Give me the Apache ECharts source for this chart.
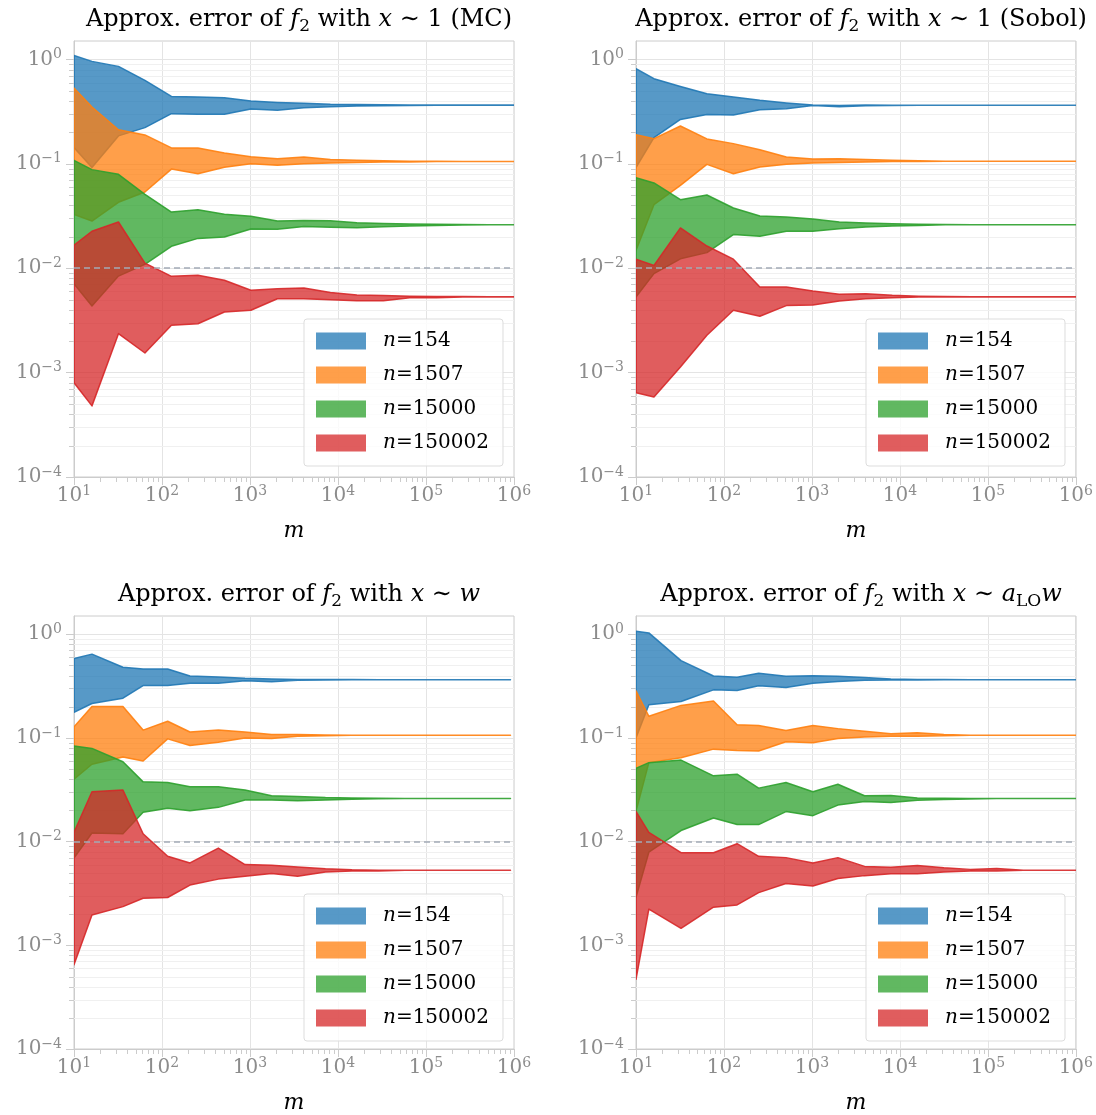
<!DOCTYPE html>
<html><head><meta charset="utf-8">
<script src="https://cdn.jsdelivr.net/npm/echarts@6/dist/echarts.min.js"></script>
<style>html,body{margin:0;padding:0;background:#fff}#c{width:1096px;height:1115px}</style>
</head><body><div id="c"></div>
<script>
// ---------- data ----------
const names = ['n=154', 'n=1507', 'n=15000', 'n=150002'];

// Panel 1: x ~ 1 (MC)
const m1 = [10, 16, 32, 64, 128, 256, 512, 1024, 2048, 4096, 8192, 16384, 32768, 65536, 131072, 262144, 524288, 1000000];
const blue1Hi = [1.09, 0.957, 0.857, 0.63, 0.442, 0.436, 0.43, 0.399, 0.387, 0.38, 0.372, 0.369, 0.367, 0.366, 0.365, 0.365, 0.365, 0.365];
const blue1Lo = [0.143, 0.092, 0.185, 0.222, 0.302, 0.298, 0.298, 0.335, 0.325, 0.345, 0.352, 0.357, 0.36, 0.362, 0.363, 0.364, 0.364, 0.364];
const orange1Hi = [0.532, 0.35, 0.212, 0.189, 0.142, 0.142, 0.127, 0.117, 0.112, 0.116, 0.11, 0.108, 0.107, 0.106, 0.106, 0.105, 0.105, 0.105];
const orange1Lo = [0.0328, 0.0283, 0.0428, 0.0537, 0.089, 0.0804, 0.0925, 0.1, 0.097, 0.1, 0.102, 0.103, 0.104, 0.104, 0.105, 0.105, 0.105, 0.105];
const green1Hi = [0.108, 0.0879, 0.0793, 0.051, 0.0345, 0.0363, 0.0328, 0.0314, 0.0283, 0.0287, 0.0285, 0.0272, 0.0268, 0.0265, 0.0263, 0.0262, 0.0261, 0.0261];
const green1Lo = [0.0071, 0.00435, 0.0084, 0.0109, 0.0162, 0.0193, 0.0199, 0.0237, 0.0236, 0.0251, 0.0247, 0.0244, 0.025, 0.0254, 0.0257, 0.0259, 0.026, 0.026];
const red1Hi = [0.0166, 0.0226, 0.0277, 0.0112, 0.00836, 0.00855, 0.00766, 0.00614, 0.00637, 0.00646, 0.00585, 0.00555, 0.00547, 0.0054, 0.00537, 0.00535, 0.00533, 0.00533];
const red1Lo = [0.0008, 0.00048, 0.00236, 0.00154, 0.00284, 0.00294, 0.00381, 0.00395, 0.0051, 0.0051, 0.00498, 0.00487, 0.00487, 0.0052, 0.0052, 0.0053, 0.0053, 0.0053];

// Panel 2: x ~ 1 (Sobol)
const m2 = [10, 16, 32, 64, 128, 256, 512, 1024, 2048, 4096, 8192, 16384, 32768, 65536, 131072, 262144, 524288, 1000000];
const blue2Hi = [0.814, 0.653, 0.551, 0.469, 0.436, 0.405, 0.382, 0.365, 0.362, 0.365, 0.364, 0.364, 0.364, 0.364, 0.364, 0.364, 0.364, 0.364];
const blue2Lo = [0.092, 0.178, 0.266, 0.297, 0.293, 0.33, 0.337, 0.362, 0.352, 0.36, 0.362, 0.363, 0.364, 0.364, 0.364, 0.364, 0.364, 0.364];
const orange2Hi = [0.19, 0.174, 0.23, 0.173, 0.156, 0.136, 0.116, 0.111, 0.112, 0.11, 0.108, 0.107, 0.106, 0.106, 0.106, 0.106, 0.106, 0.106];
const orange2Lo = [0.0148, 0.0406, 0.0621, 0.0988, 0.0804, 0.093, 0.0988, 0.1016, 0.103, 0.104, 0.105, 0.105, 0.106, 0.106, 0.106, 0.106, 0.106, 0.106];
const green2Hi = [0.0736, 0.0655, 0.0453, 0.0502, 0.0377, 0.0316, 0.0309, 0.0296, 0.0277, 0.0271, 0.0266, 0.0263, 0.0262, 0.0261, 0.0261, 0.0261, 0.0261, 0.0261];
const green2Lo = [0.0053, 0.00887, 0.0123, 0.0141, 0.021, 0.0202, 0.0226, 0.0226, 0.0239, 0.0248, 0.0253, 0.0257, 0.026, 0.026, 0.0261, 0.0261, 0.0261, 0.0261];
const red2Hi = [0.0122, 0.0106, 0.0243, 0.0163, 0.0122, 0.0066, 0.0066, 0.00605, 0.00562, 0.0057, 0.0055, 0.0054, 0.00535, 0.00533, 0.00533, 0.00533, 0.00533, 0.00533];
const red2Lo = [0.00064, 0.000585, 0.00113, 0.00228, 0.00395, 0.00346, 0.00438, 0.00444, 0.00485, 0.0051, 0.0052, 0.0053, 0.0053, 0.0053, 0.0053, 0.0053, 0.0053, 0.0053];

// Panel 3: x ~ w
const m3 = [10, 16, 36, 61, 116, 208, 437, 877, 1760, 3470, 7200, 14400, 28800, 57600, 115000, 230000, 460000, 912000];
const blue3Hi = [0.585, 0.643, 0.48, 0.462, 0.462, 0.396, 0.388, 0.376, 0.37, 0.367, 0.366, 0.366, 0.365, 0.365, 0.365, 0.365, 0.365, 0.365];
const blue3Lo = [0.177, 0.215, 0.242, 0.32, 0.32, 0.337, 0.337, 0.357, 0.348, 0.36, 0.363, 0.364, 0.364, 0.364, 0.364, 0.364, 0.364, 0.364];
const orange3Hi = [0.128, 0.201, 0.201, 0.119, 0.145, 0.114, 0.119, 0.114, 0.108, 0.108, 0.107, 0.106, 0.106, 0.106, 0.106, 0.106, 0.106, 0.106];
const orange3Lo = [0.04, 0.0557, 0.0655, 0.06, 0.098, 0.0847, 0.091, 0.1, 0.0988, 0.104, 0.105, 0.106, 0.106, 0.106, 0.106, 0.106, 0.106, 0.106];
const green3Hi = [0.0834, 0.0793, 0.059, 0.0377, 0.0372, 0.0338, 0.0338, 0.0314, 0.0277, 0.0273, 0.0266, 0.0263, 0.0262, 0.0261, 0.0261, 0.0261, 0.0261, 0.0261];
const green3Lo = [0.00695, 0.0121, 0.0119, 0.0192, 0.021, 0.0199, 0.0214, 0.0252, 0.0252, 0.0248, 0.0252, 0.0256, 0.0259, 0.026, 0.0261, 0.0261, 0.0261, 0.0261];
const red3Hi = [0.0123, 0.0303, 0.0314, 0.0119, 0.00722, 0.00623, 0.00867, 0.00601, 0.00593, 0.0057, 0.00548, 0.00535, 0.0053, 0.0053, 0.0053, 0.0053, 0.0053, 0.0053];
const red3Lo = [0.00065, 0.00196, 0.00236, 0.00284, 0.00289, 0.00381, 0.00435, 0.00464, 0.00492, 0.00464, 0.0051, 0.0052, 0.0052, 0.0053, 0.0053, 0.0053, 0.0053, 0.0053];

// Panel 4: x ~ a_LO w
const m4 = [10, 14, 32.5, 76, 141, 248, 507, 1026, 1973, 3966, 7900, 15800, 31600, 63200, 126000, 253000, 506000, 1000000];
const blue4Hi = [1.07, 1.03, 0.556, 0.396, 0.385, 0.42, 0.393, 0.399, 0.393, 0.382, 0.37, 0.367, 0.366, 0.365, 0.365, 0.365, 0.365, 0.365];
const blue4Lo = [0.1, 0.209, 0.225, 0.291, 0.287, 0.318, 0.306, 0.337, 0.35, 0.36, 0.362, 0.363, 0.364, 0.364, 0.364, 0.364, 0.364, 0.364];
const orange4Hi = [0.285, 0.162, 0.206, 0.227, 0.134, 0.132, 0.118, 0.132, 0.123, 0.116, 0.11, 0.112, 0.108, 0.106, 0.106, 0.106, 0.106, 0.106];
const orange4Lo = [0.0196, 0.0578, 0.0645, 0.078, 0.0758, 0.0747, 0.0918, 0.0898, 0.0988, 0.102, 0.104, 0.104, 0.105, 0.106, 0.106, 0.106, 0.106, 0.106];
const green4Hi = [0.051, 0.0578, 0.0612, 0.0431, 0.0447, 0.0328, 0.0372, 0.0303, 0.0358, 0.0277, 0.0278, 0.0264, 0.0262, 0.0261, 0.0261, 0.0261, 0.0261, 0.0261];
const green4Lo = [0.0029, 0.0079, 0.0128, 0.0169, 0.0146, 0.0146, 0.0195, 0.0178, 0.0225, 0.0244, 0.0238, 0.025, 0.0255, 0.0258, 0.026, 0.0261, 0.0261, 0.0261];
const red4Hi = [0.0196, 0.0123, 0.00782, 0.0078, 0.00955, 0.00722, 0.00701, 0.00623, 0.00701, 0.00577, 0.00565, 0.0059, 0.0056, 0.0054, 0.0055, 0.0053, 0.0053, 0.0053];
const red4Lo = [0.00047, 0.00223, 0.00146, 0.00233, 0.00245, 0.00322, 0.00395, 0.00373, 0.00441, 0.0047, 0.0049, 0.0049, 0.0051, 0.0052, 0.0052, 0.0053, 0.0053, 0.0053];

const referenceLevel = 0.01;
const yTickValues = [1e-4, 1e-3, 1e-2, 1e-1, 1];
const xTickValues = [1e1, 1e2, 1e3, 1e4, 1e5, 1e6];

// ---------- styling / layout ----------
const SERIF = 'DejaVu Serif';
const COL = ['#1f77b4', '#ff7f0e', '#2ca02c', '#d62728'];
function rgba(hex, a) {
  const r = parseInt(hex.slice(1, 3), 16), g = parseInt(hex.slice(3, 5), 16), b = parseInt(hex.slice(5, 7), 16);
  return 'rgba(' + r + ',' + g + ',' + b + ',' + a + ')';
}
const GW = 440, GH = 436;
const panels = [
  { m: m1, hi: [blue1Hi, orange1Hi, green1Hi, red1Hi], lo: [blue1Lo, orange1Lo, green1Lo, red1Lo],
    title: '{r|Approx. error of }{i|f}{s|2}{r| with }{i|x}{r| ∼ 1 (MC)}', left: 74, top: 41, lx: 304, ly: 319 },
  { m: m2, hi: [blue2Hi, orange2Hi, green2Hi, red2Hi], lo: [blue2Lo, orange2Lo, green2Lo, red2Lo],
    title: '{r|Approx. error of }{i|f}{s|2}{r| with }{i|x}{r| ∼ 1 (Sobol)}', left: 636, top: 41, lx: 866, ly: 319 },
  { m: m3, hi: [blue3Hi, orange3Hi, green3Hi, red3Hi], lo: [blue3Lo, orange3Lo, green3Lo, red3Lo],
    title: '{r|Approx. error of }{i|f}{s|2}{r| with }{i|x}{r| ∼ }{i|w}', left: 74, top: 616, lx: 304, ly: 894 },
  { m: m4, hi: [blue4Hi, orange4Hi, green4Hi, red4Hi], lo: [blue4Lo, orange4Lo, green4Lo, red4Lo],
    title: '{r|Approx. error of }{i|f}{s|2}{r| with }{i|x}{r| ∼ }{i|a}{s|LO}{i|w}', left: 636, top: 616, lx: 866, ly: 894 }
];

// minor tick values (2..9 x decade)
const minorY = [], minorX = [];
for (let e = -4; e <= -1; e++) for (let k = 2; k <= 9; k++) minorY.push(k * Math.pow(10, e));
for (let e = 1; e <= 5; e++) for (let k = 2; k <= 9; k++) minorX.push(k * Math.pow(10, e));

const TICKRICH = {
  b: { fontFamily: SERIF, fontSize: 20, lineHeight: 24, color: '#8c8c8c' },
  s: { fontFamily: SERIF, fontSize: 14, lineHeight: 14, verticalAlign: 'top', color: '#8c8c8c' }
};
function expFmt(v) {
  const l = Math.log10(v), e = Math.round(l);
  if (Math.abs(l - e) > 0.01) return '';
  return '{b|10}{s|' + String(e).replace('-', '\u2212') + '}';
}

const TITLERICH = {
  r: { fontFamily: SERIF, fontSize: 24, fontWeight: 'normal', color: '#000', lineHeight: 30 },
  i: { fontFamily: SERIF, fontSize: 24, fontWeight: 'normal', fontStyle: 'italic', color: '#000', lineHeight: 30 },
  s: { fontFamily: SERIF, fontSize: 17, fontWeight: 'normal', color: '#000', lineHeight: 22, verticalAlign: 'bottom' }
};

function bandRenderer(k) {
  const fill = rgba(COL[k], 0.75);
  const edge = rgba(COL[k], 0.9);
  return function (params, api) {
    if (params.dataIndexInside !== 0) return null;
    const n = params.dataInsideLength;
    const up = [], dn = [];
    for (let j = 0; j < n; j++) {
      const x = api.value(0, j);
      up.push(api.coord([x, api.value(2, j)]));
      dn.push(api.coord([x, api.value(1, j)]));
    }
    return {
      type: 'polygon',
      shape: { points: up.concat(dn.reverse()) },
      style: { fill: fill, stroke: edge, lineWidth: 1.5, lineJoin: 'round' }
    };
  };
}

const option = {
  animation: false,
  backgroundColor: '#fff',
  title: [], grid: [], xAxis: [], yAxis: [], legend: [], series: []
};

panels.forEach((p, i) => {
  option.title.push({ text: p.title, left: p.left + GW / 2, top: p.top - 41, textAlign: 'center',
    textStyle: { fontWeight: 'normal', rich: TITLERICH } });
  option.grid.push({ left: p.left, top: p.top, width: GW, height: GH, show: true, borderColor: '#cccccc', borderWidth: 1, backgroundColor: 'transparent' });
  option.xAxis.push({
    type: 'log', logBase: 10, gridIndex: i, min: 10, max: 1e6,
    name: 'm', nameLocation: 'middle', nameGap: 43,
    nameTextStyle: { fontFamily: SERIF, fontStyle: 'italic', fontSize: 22, color: '#000' },
    axisLine: { show: true, lineStyle: { color: '#cccccc' } },
    axisTick: { show: true, length: 8, lineStyle: { color: '#cccccc' }, customValues: xTickValues },
    axisLabel: { margin: 7, formatter: expFmt, rich: TICKRICH, customValues: xTickValues },
    splitLine: { show: true, lineStyle: { color: '#e4e4e4' } }
  });
  option.yAxis.push({
    type: 'log', logBase: 10, gridIndex: i, min: 1e-4, max: 1.5,
    axisLine: { show: true, lineStyle: { color: '#cccccc' } },
    axisTick: { show: true, length: 8, lineStyle: { color: '#cccccc' }, customValues: yTickValues },
    axisLabel: { margin: 12, formatter: expFmt, rich: TICKRICH, customValues: yTickValues },
    splitLine: { show: true, lineStyle: { color: '#e4e4e4' } }
  });
  // minor horizontal grid lines + minor ticks
  option.series.push({
    type: 'custom', xAxisIndex: i, yAxisIndex: i, silent: true, z: 1, clip: false,
    data: minorY.map(v => [10, v]),
    renderItem: function (params, api) {
      const cs = params.coordSys;
      const pt = api.coord([api.value(0), api.value(1)]);
      const y = Math.round(pt[1]) + 0.5;
      return { type: 'group', children: [
        { type: 'line', shape: { x1: cs.x, y1: y, x2: cs.x + cs.width, y2: y }, style: { stroke: '#f0f0f0', lineWidth: 1 } },
        { type: 'line', shape: { x1: cs.x - 5, y1: y, x2: cs.x, y2: y }, style: { stroke: '#cccccc', lineWidth: 1 } }
      ] };
    }
  });
  option.series.push({
    type: 'custom', xAxisIndex: i, yAxisIndex: i, silent: true, z: 1, clip: false,
    data: minorX.map(v => [v, 1e-4]),
    renderItem: function (params, api) {
      const cs = params.coordSys;
      const pt = api.coord([api.value(0), api.value(1)]);
      const x = Math.round(pt[0]) + 0.5;
      const yb = cs.y + cs.height;
      return { type: 'line', shape: { x1: x, y1: yb, x2: x, y2: yb + 5 }, style: { stroke: '#cccccc', lineWidth: 1 } };
    }
  });
  for (let k = 0; k < 4; k++) {
    const lo = p.lo[k], hi = p.hi[k];
    const s = {
      type: 'custom', name: names[k], xAxisIndex: i, yAxisIndex: i, silent: true, z: 2, clip: true,
      encode: { x: 0, y: [1, 2] },
      data: p.m.map((x, j) => [x, lo[j], hi[j]]),
      itemStyle: { color: COL[k] },
      renderItem: bandRenderer(k)
    };
    if (k === 0) {
      s.markLine = { silent: true, symbol: ['none', 'none'], label: { show: false }, z: 10,
        lineStyle: { type: [6, 4], color: '#a3abb6', width: 1.6 }, data: [{ yAxis: referenceLevel }] };
    }
    option.series.push(s);
  }
  option.legend.push({
    left: p.lx, top: p.ly, orient: 'vertical', selectedMode: false, z: 20,
    data: names.map((n, k) => ({ name: n, icon: 'rect', itemStyle: { color: rgba(COL[k], 0.75), borderWidth: 0 } })),
    itemWidth: 50, itemHeight: 17, itemGap: 14,
    padding: [12, 14, 13, 12], borderColor: '#dddddd', borderWidth: 1, borderRadius: 3,
    backgroundColor: 'rgba(255,255,255,0.8)',
    formatter: n => '{i|n}{r|' + n.slice(1) + '}',
    textStyle: { rich: {
      i: { fontFamily: SERIF, fontStyle: 'italic', fontSize: 20, lineHeight: 24, color: '#000', padding: [0, 0, 0, 12] },
      r: { fontFamily: SERIF, fontSize: 20, lineHeight: 24, color: '#000' }
    } }
  });
});

const chart = echarts.init(document.getElementById('c'), null, { renderer: 'canvas' });
chart.setOption(option);
</script></body></html>
